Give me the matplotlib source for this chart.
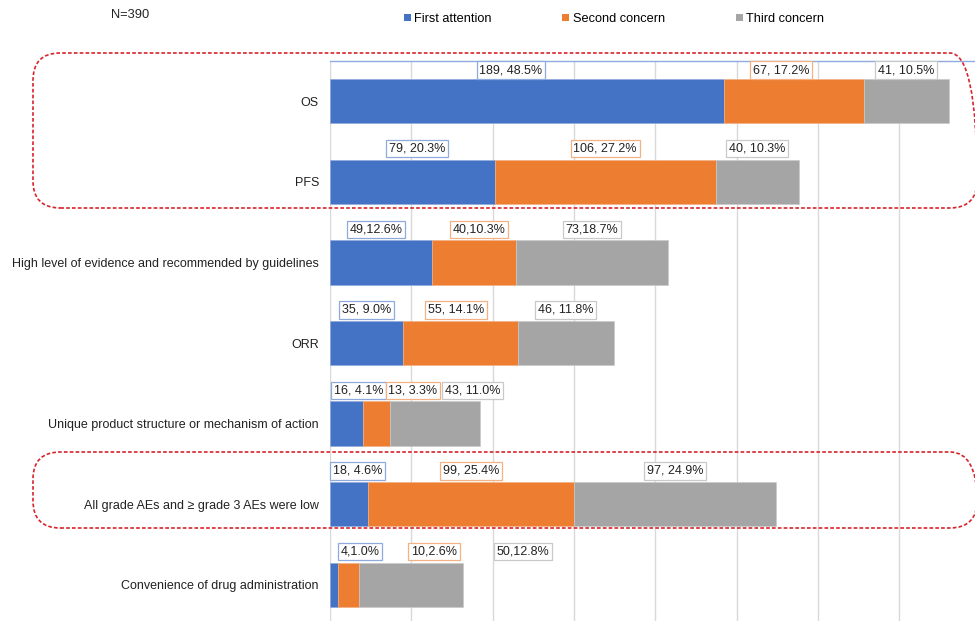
import matplotlib.pyplot as plt
from matplotlib.patches import FancyBboxPatch, Patch
import numpy as np

plt.rcParams['font.family'] = ['Liberation Sans', 'DejaVu Sans']

N = 390
categories = [
    'OS',
    'PFS',
    'High level of evidence and recommended by guidelines',
    'ORR',
    'Unique product structure or mechanism of action',
    'All grade AEs and \u2265 grade 3 AEs were low',
    'Convenience of drug administration',
]
series_names = ['First attention', 'Second concern', 'Third concern']
first = [189, 79, 49, 35, 16, 18, 4]
second = [67, 106, 40, 55, 13, 99, 10]
third = [41, 40, 73, 46, 43, 97, 50]
first_pct = [48.5, 20.3, 12.6, 9.0, 4.1, 4.6, 1.0]
second_pct = [17.2, 27.2, 10.3, 14.1, 3.3, 25.4, 2.6]
third_pct = [10.5, 10.3, 18.7, 11.8, 11.0, 24.9, 12.8]
# separator used in each row's callouts
seps = [', ', ', ', ',', ', ', ', ', ', ', ',']

colors = ['#4472c4', '#ed7d31', '#a5a5a5']
edge_colors = ['#8faadc', '#f4b183', '#c9c9c9']

# hand-placed callout nudges (pixels) : (row, series) -> dx
nudges = {
    (0, 0): -16, (0, 1): -13,
    (1, 0): 5,
    (2, 0): -5, (2, 1): 5,
    (3, 1): -4,
    (4, 0): 12, (4, 1): 36, (4, 2): 37,
    (5, 0): 9,
    (6, 0): 26, (6, 1): 85, (6, 2): 112,
}
# gap between callout text and bar top (pixels)
lift = {0: 3}

fig = plt.figure(figsize=(9.75, 6.21), dpi=100)
ax = fig.add_axes([330 / 975, -4 / 621, 645 / 975, 564 / 621])

y = np.arange(len(categories))
values = [first, second, third]
pcts = [first_pct, second_pct, third_pct]
left = np.zeros(len(categories))
bar_h = 0.55
for s in range(3):
    vals = np.array(values[s], dtype=float)
    ax.barh(y, vals, left=left, height=bar_h, color=colors[s],
            edgecolor=edge_colors[s], linewidth=0.5, zorder=3)
    for i in range(len(categories)):
        cx = left[i] + vals[i] / 2
        txt = f'{values[s][i]}{seps[i]}{pcts[s][i]:.1f}%'
        ax.annotate(txt, xy=(cx, y[i] - bar_h / 2), xycoords='data',
                    xytext=(nudges.get((i, s), 0), lift.get(i, 5)),
                    textcoords='offset pixels', ha='center', va='bottom',
                    fontsize=9.0, color='#222222', zorder=5,
                    bbox=dict(boxstyle='square,pad=0.22', fc='white',
                              ec=edge_colors[s], lw=0.9))
    left += vals

ax.set_ylim(len(categories) - 0.5, -0.5)
ax.set_xlim(0, 309.4)
ax.set_xticks(np.arange(0, 310, N * 0.1))
ax.tick_params(axis='x', length=0, labelbottom=False)
ax.tick_params(axis='y', length=0, pad=8, labelsize=9, labelcolor='#222222')
ax.set_yticks(y)
ax.set_yticklabels(categories)
ax.grid(axis='x', color='#d9d9d9', lw=1, zorder=0)
for side in ['left', 'right', 'bottom']:
    ax.spines[side].set_visible(False)
ax.spines['top'].set_color('#8faadc')
ax.spines['top'].set_linewidth(1)

# red dashed frames around the highlighted rows
def frame(x0, y0, x1, y1):
    W, H = 975, 621
    box = FancyBboxPatch((x0 / W, 1 - y1 / H), (x1 - x0) / W, (y1 - y0) / H,
                         boxstyle='round,pad=0,rounding_size=0.028',
                         transform=fig.transFigure, fill=False,
                         ec='#d9232b', lw=1.2, ls=(0, (2.2, 1.3)),
                         clip_on=False, zorder=10, mutation_aspect=1.57)
    fig.add_artist(box)

frame(33, 53, 977, 208)
frame(33, 452, 977, 528)

fig.text(111 / 975, 1 - 15 / 621, 'N=390', fontsize=9.3, va='center', color='#222222')

handles = [Patch(facecolor=c) for c in colors]
fig.legend(handles, series_names, loc='center', bbox_to_anchor=(614 / 975, 1 - 19 / 621),
           ncol=3, frameon=False, fontsize=9.2, handlelength=0.55, handleheight=0.55,
           handletextpad=0.3, columnspacing=5.5)

fig.savefig('out.png', dpi=100)
